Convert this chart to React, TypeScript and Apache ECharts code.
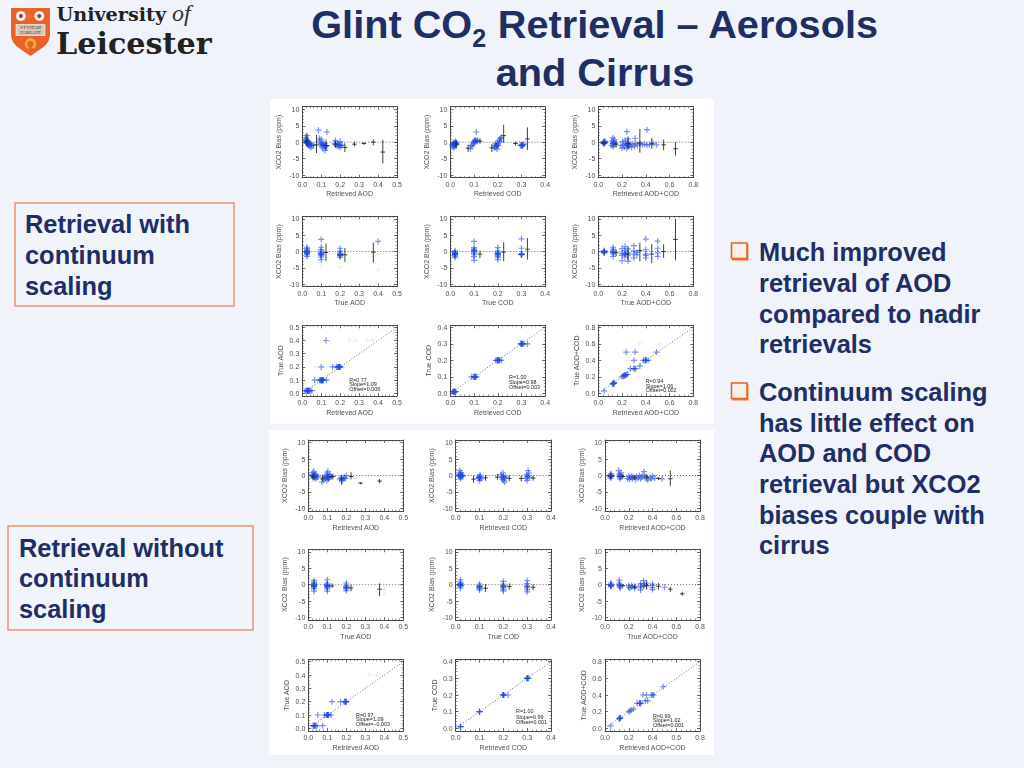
import React, { useEffect, useRef } from "react";
import * as echarts from "echarts";

// ---------- slide text ----------
const titleLine2 = "and Cirrus";
const box1Lines = ["Retrieval with", "continuum", "scaling"];
const box2Lines = ["Retrieval without", "continuum", "scaling"];
const bullet1Lines = ["Much improved", "retrieval of AOD", "compared to nadir", "retrievals"];
const bullet2Lines = ["Continuum scaling", "has little effect on", "AOD and COD", "retrieval but XCO2", "biases couple with", "cirrus"];

// ---------- ticks ----------
const biasTicks = [-10, -5, 0, 5, 10];
const biasMinor = [-10, -9, -8, -7, -6, -5, -4, -3, -2, -1, 0, 1, 2, 3, 4, 5, 6, 7, 8, 9, 10];
const ticks05 = [0, 0.1, 0.2, 0.3, 0.4, 0.5];
const minor05 = [0, 0.02, 0.04, 0.06, 0.08, 0.1, 0.12, 0.14, 0.16, 0.18, 0.2, 0.22, 0.24, 0.26, 0.28, 0.3, 0.32, 0.34, 0.36, 0.38, 0.4, 0.42, 0.44, 0.46, 0.48, 0.5];
const ticks04 = [0, 0.1, 0.2, 0.3, 0.4];
const minor04 = [0, 0.02, 0.04, 0.06, 0.08, 0.1, 0.12, 0.14, 0.16, 0.18, 0.2, 0.22, 0.24, 0.26, 0.28, 0.3, 0.32, 0.34, 0.36, 0.38, 0.4];
const ticks08 = [0, 0.2, 0.4, 0.6, 0.8];
const minor08 = [0, 0.04, 0.08, 0.12, 0.16, 0.2, 0.24, 0.28, 0.32, 0.36, 0.4, 0.44, 0.48, 0.52, 0.56, 0.6, 0.64, 0.68, 0.72, 0.76, 0.8];

// ---------- with continuum scaling: bias vs retrieved ----------
const blueA1 = [[.015,.6],[.018,1.4],[.02,.3],[.02,-.2],[.022,.9],[.024,2],[.025,.1],[.027,-.4],[.028,.6],[.03,-.6],[.032,.2],[.034,-.9],[.036,-.3],[.038,-.8],[.04,-1.1],[.042,-.5],[.045,-1.7],[.048,-.9],[.052,-1],[.06,-.9],[.085,3.7],[.09,1.2],[.092,.4],[.095,-.3],[.1,-.8],[.1,.9],[.104,-1.4],[.106,-.2],[.11,-1],[.11,-2],[.114,-.5],[.118,-1.3],[.12,-2.5],[.122,-1],[.126,-1.1],[.13,3.1],[.13,-1],[.17,-.5],[.175,.5],[.18,-1],[.185,-.3],[.19,-1.2],[.195,-.7],[.2,-1.5],[.2,.2],[.205,-1],[.21,-.9]];
const coreA1 = [[.022,.2],[.025,-.1],[.03,-.3],[.028,0],[.035,-.6],[.105,-.9],[.11,-.8],[.125,-1.1],[.12,-1],[.19,-.9],[.195,-1]];
const blackA1 = [[.025,.3,-1.5,2.6],[.075,-.8,-3.3,2.2],[.125,-1,-2.6,.8],[.175,-.6,-1.7,.5],[.225,-1.6,-3,-.3],[.275,-.6,-1.3,.2],[.325,-.4,-.8,0],[.375,0,-.9,.9],[.425,-3,-6.5,.7]];
const blueA2 = [[.008,-.8],[.01,-1.4],[.012,-.4],[.014,-1],[.015,-.2],[.016,-1.7],[.018,-.7],[.02,-.3],[.021,.3],[.022,-1],[.023,-.5],[.025,-.1],[.026,-.7],[.085,-2],[.088,-1],[.092,-1.2],[.095,-.6],[.1,-.1],[.102,.3],[.105,.7],[.108,.1],[.11,3.1],[.112,.4],[.115,.6],[.185,-1.8],[.188,-1.1],[.19,-.5],[.192,-1.5],[.195,-.8],[.197,-2.1],[.2,-.3],[.202,-1],[.205,.5],[.208,.9],[.21,.2],[.212,1.2],[.215,1.4],[.295,-1],[.3,-.8],[.303,-1.1],[.306,-.9],[.31,-.6]];
const coreA2 = [[.015,-.8],[.018,-.5],[.02,-.7],[.022,-.6],[.1,.2],[.105,.4],[.2,-.9],[.195,-1.1],[.3,-.9],[.302,-1],[.305,-.9]];
const blackA2 = [[.025,-.5,-1.7,.6],[.075,-1.8,-3,-.7],[.125,.3,-.5,1.2],[.175,-1.7,-3,-.6],[.225,2,-.2,5.3],[.275,-.4,-1,.2],[.325,1,-2.4,4.5]];
const blueA3 = [[.04,-.3],[.045,.2],[.048,-.5],[.05,0],[.052,-.2],[.055,.3],[.058,-.1],[.11,-1],[.115,.4],[.12,-.5],[.122,1.3],[.125,-1.4],[.128,.1],[.13,-.8],[.135,.8],[.14,-.3],[.19,-1],[.2,-1.8],[.205,.2],[.21,-.8],[.22,-1.5],[.225,.6],[.23,-.4],[.24,3.2],[.24,-1.9],[.245,-.9],[.25,1],[.255,-.3],[.26,-1.2],[.27,-.7],[.28,-1.5],[.29,-.6],[.305,-1.2],[.31,1.2],[.315,-.4],[.33,-.9],[.35,-.5],[.37,-.8],[.39,-.6],[.41,3.8],[.41,-.9],[.43,-.7],[.46,-.3],[.49,-.8]];
const coreA3 = [[.05,-.2],[.05,-.1],[.048,-.3],[.052,0],[.125,-.4],[.13,-.3],[.25,-.5],[.255,-.7],[.24,-.6]];
const blackA3 = [[.05,-.2,-.7,.3],[.15,-.6,-1.6,.5],[.25,-.4,-2.2,1.4],[.35,-.2,-3.2,4],[.45,-.5,-2,1.3],[.55,-.8,-2.5,.8],[.65,-2,-4,0]];

// ---------- with continuum scaling: bias vs true ----------
const blueA4 = [[.025,1.3],[.025,.9],[.025,.5],[.025,.2],[.025,-.1],[.025,-.4],[.025,-.7],[.025,-1],[.025,-1.5],[.1,3.7],[.1,1.3],[.1,.6],[.1,.1],[.1,-.3],[.1,-.7],[.1,-1],[.1,-1.3],[.1,-1.7],[.1,-2.5],[.2,1],[.2,.1],[.2,-.5],[.2,-.8],[.2,-1.1],[.2,-1.3],[.2,-1.7],[.4,3.1]];
const coreA4 = [[.025,.1],[.025,-.2],[.025,-.5],[.025,-.3],[.1,-.8],[.1,-1],[.1,-.6],[.2,-1],[.2,-.9],[.2,-1.2]];
const blackA4 = [[.125,-.3,-3,2.5],[.225,-1,-3.2,1.1],[.375,-.2,-3.4,2.7]];
const faintA4 = [[.025,3.5],[.1,-4.5],[.2,-4.8],[.4,-1],[.4,-5.5]];
const blueA5 = [[.02,.2],[.02,-.2],[.02,-.5],[.02,-.7],[.02,-.9],[.02,-1.1],[.02,-1.4],[.02,-1.8],[.1,3.1],[.1,1.2],[.1,.7],[.1,.3],[.1,-.1],[.1,-.5],[.1,-1],[.1,-1.6],[.1,-2.7],[.2,1.2],[.2,.2],[.2,-.3],[.2,-.7],[.2,-1],[.2,-1.4],[.2,-1.8],[.2,-2.5],[.3,3.9],[.3,1],[.3,-.8],[.3,-1],[.3,-.9]];
const coreA5 = [[.02,-.7],[.02,-.5],[.02,-.9],[.02,-.8],[.1,.1],[.1,.4],[.2,-.8],[.2,-1],[.2,-.5],[.3,-.9],[.3,-.8],[.3,-1]];
const blackA5 = [[.125,-.8,-2,.3],[.225,-.2,-3,2.8],[.325,.7,-2.5,4.1]];
const blueA6 = [[.05,.3],[.05,0],[.05,-.2],[.05,-.5],[.125,1.3],[.125,.7],[.125,.2],[.125,-.2],[.125,-.7],[.125,-1.5],[.2,.9],[.2,-.6],[.2,-1.2],[.2,-2.8],[.225,1.5],[.225,.3],[.225,-.7],[.225,-1.7],[.25,.8],[.25,-.4],[.25,-1.3],[.25,-3],[.3,1.8],[.3,.2],[.3,-.9],[.3,-2],[.325,-.3],[.325,-1],[.4,3.8],[.4,.6],[.4,-.8],[.4,-1.2],[.4,-2],[.5,3.2],[.5,1],[.5,-.4],[.5,-1.5]];
const coreA6 = [[.05,-.2],[.05,-.3],[.05,-.1],[.05,0],[.125,-.2],[.125,-.3],[.225,-.6],[.225,-.8]];
const blackA6 = [[.15,-.4,-1.4,.6],[.25,-.8,-2.8,1.2],[.35,.3,-3,2.7],[.45,-.8,-3.5,2.3],[.55,0,-2,2.2],[.65,3.7,-2.7,10]];

// ---------- with continuum scaling: true vs retrieved ----------
const blueA7 = [[.015,.02],[.02,.02],[.025,.02],[.028,.02],[.03,.02],[.033,.02],[.037,.02],[.042,.02],[.05,.02],[.065,.1],[.09,.1],[.095,.1],[.1,.1],[.103,.1],[.107,.1],[.112,.1],[.128,.1],[.1,.2],[.16,.2],[.18,.2],[.187,.2],[.192,.2],[.196,.2],[.2,.2],[.125,.4]];
const coreA7 = [[.025,.02],[.03,.02],[.035,.02],[.1,.1],[.1,.1],[.105,.1],[.11,.1],[.19,.2],[.195,.2],[.2,.2],[.195,.2]];
const faintA7 = [[.25,.4],[.28,.4],[.34,.4],[.37,.4],[.22,.2],[.07,.2]];
const blueA8 = [[.01,.01],[.013,.01],[.016,.01],[.02,.01],[.024,.01],[.09,.1],[.098,.1],[.102,.1],[.106,.1],[.11,.1],[.192,.2],[.197,.2],[.2,.2],[.204,.2],[.208,.2],[.215,.2],[.296,.3],[.3,.3],[.304,.3],[.31,.3],[.325,.3]];
const coreA8 = [[.015,.01],[.018,.01],[.02,.01],[.105,.1],[.1,.1],[.2,.2],[.2,.2],[.205,.2],[.3,.3],[.3,.3],[.305,.3]];
const blueA9 = [[.05,.03],[.12,.11],[.125,.115],[.13,.12],[.135,.13],[.2,.2],[.21,.21],[.215,.21],[.225,.22],[.235,.225],[.245,.23],[.27,.3],[.3,.3],[.315,.3],[.35,.33],[.38,.4],[.395,.4],[.405,.4],[.42,.4],[.3,.4],[.235,.5],[.31,.5],[.49,.5]];
const coreA9 = [[.125,.12],[.13,.12],[.22,.22],[.23,.22],[.4,.4],[.395,.4],[.3,.3]];
const faintA9 = [[.52,.6],[.35,.6],[.25,.4]];

// ---------- without continuum scaling: bias vs retrieved ----------
const blueB1 = [[.02,.3],[.022,-.4],[.024,.9],[.026,-.8],[.028,.1],[.03,1.3],[.03,-.3],[.033,.4],[.035,-.6],[.037,-.1],[.04,-1],[.042,.2],[.045,-.5],[.05,-.2],[.072,-2],[.08,-1.2],[.085,-.5],[.09,-.9],[.095,.2],[.097,-1.5],[.1,.7],[.1,-.5],[.103,1.3],[.105,-1.1],[.108,-.2],[.11,-.7],[.115,.3],[.12,-.4],[.13,-.3],[.165,-1.3],[.17,-.8],[.18,-1.5],[.185,-1],[.19,-.5],[.195,-.9],[.2,0]];
const coreB1 = [[.03,-.2],[.03,-.4],[.035,-.3],[.1,-.4],[.105,-.5],[.1,-.3],[.11,-.4]];
const blackB1 = [[.025,-.3,-1,.5],[.075,-.8,-1.8,.2],[.125,-.3,-.9,.3],[.175,-1,-2.8,.2],[.225,-.3,-1.2,1],[.275,-2.3,-2.7,-2],[.375,-1.7,-2.4,-1]];
const blueB2 = [[.012,.3],[.015,-.4],[.017,1.5],[.018,.6],[.02,-1],[.02,.1],[.022,-.5],[.023,.9],[.025,.2],[.027,-.2],[.03,-.1],[.095,-.9],[.098,-.4],[.1,-1.5],[.1,-.7],[.102,.2],[.104,-.3],[.106,-1],[.19,.3],[.193,-.5],[.196,-1.2],[.198,.8],[.2,-.2],[.202,-1.5],[.204,-.7],[.206,-2],[.21,-.4],[.295,-.9],[.298,.3],[.3,-1.5],[.302,-.2],[.304,1.5],[.306,.7],[.31,-.6]];
const coreB2 = [[.02,-.1],[.02,.1],[.02,-.2],[.022,0],[.1,-.7],[.1,-.5],[.2,-.4],[.2,-.8],[.3,-.4]];
const blackB2 = [[.075,-1.1,-2.2,0],[.125,-.7,-1.6,.2],[.175,-.5,-1.3,.5],[.225,-.9,-1.7,.1],[.275,-.9,-1.8,0],[.325,-.8,-1.6,0]];
const blueB3 = [[.04,-.4],[.045,.3],[.048,-.8],[.05,0],[.052,.5],[.055,-.2],[.115,1.5],[.118,-.3],[.12,.5],[.125,-1],[.128,.1],[.13,-.5],[.135,.8],[.14,-.3],[.19,-.9],[.2,-.3],[.205,-1.2],[.215,-.6],[.225,-.2],[.23,-1],[.24,-.5],[.26,-1.3],[.265,-.3],[.28,-.7],[.29,-.1],[.3,-1],[.31,-.5],[.32,.2],[.33,1.2],[.335,-.4],[.35,-.9],[.36,-1.4],[.38,-.6],[.39,-1.1],[.4,-.2],[.42,-.8],[.48,-1]];
const coreB3 = [[.05,-.2],[.05,-.3],[.05,-.1],[.125,-.2],[.125,-.3]];
const blackB3 = [[.05,-.3,-.8,.2],[.15,-.3,-.9,.4],[.25,-.7,-1.3,.1],[.35,-.4,-1.2,.4],[.45,-.9,-1.4,-.5],[.55,-1,-3.3,1.5]];

// ---------- without continuum scaling: bias vs true ----------
const blueB4 = [[.03,1.3],[.03,.8],[.03,.4],[.03,.1],[.03,-.2],[.03,-.5],[.03,-.8],[.03,-1.2],[.03,-2],[.1,1.5],[.1,.5],[.1,.1],[.1,-.2],[.1,-.5],[.1,-.9],[.1,-1.3],[.1,-2],[.2,.5],[.2,-.2],[.2,-.6],[.2,-1],[.2,-1.3],[.2,-1.8]];
const coreB4 = [[.03,-.2],[.03,-.4],[.03,-.1],[.03,-.5],[.1,-.4],[.1,-.2],[.1,-.6],[.2,-.8],[.2,-1]];
const blackB4 = [[.125,-.4,-1,.4],[.225,-1,-2,0],[.375,-1.4,-3.5,.4]];
const faintB4 = [[.4,-1.5],[.4,-3],[.03,-3.5]];
const blueB5 = [[.02,1.5],[.02,.8],[.02,.4],[.02,.1],[.02,-.2],[.02,-.5],[.02,-1],[.1,.2],[.1,-.3],[.1,-.6],[.1,-.9],[.1,-1.2],[.1,-1.6],[.2,1],[.2,.2],[.2,-.3],[.2,-.7],[.2,-1],[.2,-1.5],[.2,-2],[.3,1.2],[.3,.3],[.3,-.4],[.3,-.9],[.3,-1.5],[.3,-2.2]];
const coreB5 = [[.02,0],[.02,-.2],[.02,.2],[.02,-.1],[.1,-.7],[.1,-.5],[.2,-.7],[.2,-.4],[.3,-.5]];
const blackB5 = [[.125,-1.1,-2.2,.2],[.225,-.6,-1.5,.4],[.325,-.8,-1.7,.1]];
const blueB6 = [[.05,.5],[.05,.1],[.05,-.2],[.05,-.6],[.12,1.4],[.12,.5],[.12,.1],[.125,-.3],[.125,-.7],[.13,-1],[.2,-.3],[.2,-.8],[.21,-1.1],[.225,-.2],[.225,-.7],[.25,-.5],[.25,-1.1],[.3,.3],[.3,-.4],[.3,-.9],[.3,-1.6],[.325,1.2],[.325,.3],[.325,-.5],[.33,-.2],[.35,.5],[.35,-.4],[.4,.2],[.4,-.3],[.4,-.9],[.4,-1.5],[.5,-.8]];
const coreB6 = [[.05,-.2],[.05,-.3],[.05,-.1],[.125,-.2],[.125,-.3]];
const blackB6 = [[.15,-.3,-.8,.2],[.25,-.8,-1.4,-.2],[.35,-.2,-1.5,1],[.45,-.5,-1.5,.5],[.55,-1.4,-2.2,-.7],[.65,-2.8,-3.4,-2.2]];

// ---------- without continuum scaling: true vs retrieved ----------
const blueB7 = [[.025,.02],[.03,.02],[.033,.02],[.037,.02],[.045,.02],[.075,.02],[.05,.1],[.085,.1],[.095,.1],[.1,.1],[.103,.1],[.108,.1],[.12,.1],[.125,.2],[.17,.2],[.19,.2],[.195,.2],[.2,.2]];
const coreB7 = [[.03,.02],[.035,.02],[.1,.1],[.1,.1],[.105,.1],[.195,.2],[.2,.2]];
const faintB7 = [[.32,.4],[.36,.4],[.3,.3]];
const blueB8 = [[.02,.01],[.1,.1],[.198,.2],[.2,.2],[.203,.2],[.22,.2],[.302,.3],[.306,.3]];
const coreB8 = [[.02,.01],[.02,.01],[.1,.1],[.1,.1],[.2,.2],[.2,.2],[.3,.3],[.3,.3],[.3,.3]];
const blueB9 = [[.05,.03],[.12,.115],[.125,.12],[.13,.13],[.2,.2],[.21,.21],[.22,.22],[.24,.23],[.27,.3],[.29,.3],[.3,.3],[.32,.4],[.35,.4],[.34,.33],[.36,.33],[.39,.4],[.41,.4],[.49,.5]];
const coreB9 = [[.125,.12],[.12,.115],[.4,.4],[.29,.3],[.3,.3]];

const statsA1 = ["R=0.77", "Slope=1.09", "Offset=0.006"];
const statsA2 = ["R=1.00", "Slope=0.98", "Offset=0.003"];
const statsA3 = ["R=0.94", "Slope=1.06", "Offset=0.002"];
const statsB1 = ["R=0.97", "Slope=1.09", "Offset=\u22120.003"];
const statsB2 = ["R=1.00", "Slope=0.99", "Offset=0.001"];
const statsB3 = ["R=0.99", "Slope=1.02", "Offset=0.001"];

// ---------- layout ----------
const colsA = [[302.3, 397], [450.3, 545.2], [598.3, 693.3]];
const colsB = [[308.3, 403.3], [455.7, 551], [605, 700]];
const NAVY = "#202e66";
const ORANGE = "#e8652a";
const SANS = "'Liberation Sans', Arial, sans-serif";
const BIAS = "XCO2 Bias (ppm)";

type Panel = {
  box: number[]; xName: string; yName: string; xMax: number; kind: "bias" | "fit";
  blue: number[][]; black?: number[][]; faint?: number[][]; stats?: string[]; statsAt?: number[];
};
const ranges: Record<string, { t: number[]; m: number[]; step: number }> = {
  "0.5": { t: ticks05, m: minor05, step: 0.1 },
  "0.4": { t: ticks04, m: minor04, step: 0.1 },
  "0.8": { t: ticks08, m: minor08, step: 0.2 },
};
const rowsY = { a1: [106.7, 177.7], a2: [216.3, 286.7], a3: [325.3, 396], b1: [440, 511], b2: [549.3, 620], b3: [659.7, 731] };
const bx = (c: number[], r: number[]) => [c[0], r[0], c[1] - c[0], r[1] - r[0]];

const panels: Panel[] = [
  { box: bx(colsA[0], rowsY.a1), xName: "Retrieved AOD", yName: BIAS, xMax: .5, kind: "bias", blue: [...blueA1, ...coreA1], black: blackA1 },
  { box: bx(colsA[1], rowsY.a1), xName: "Retrieved COD", yName: BIAS, xMax: .4, kind: "bias", blue: [...blueA2, ...coreA2], black: blackA2 },
  { box: bx(colsA[2], rowsY.a1), xName: "Retrieved AOD+COD", yName: BIAS, xMax: .8, kind: "bias", blue: [...blueA3, ...coreA3], black: blackA3 },
  { box: bx(colsA[0], rowsY.a2), xName: "True AOD", yName: BIAS, xMax: .5, kind: "bias", blue: [...blueA4, ...coreA4], black: blackA4, faint: faintA4 },
  { box: bx(colsA[1], rowsY.a2), xName: "True COD", yName: BIAS, xMax: .4, kind: "bias", blue: [...blueA5, ...coreA5], black: blackA5 },
  { box: bx(colsA[2], rowsY.a2), xName: "True AOD+COD", yName: BIAS, xMax: .8, kind: "bias", blue: [...blueA6, ...coreA6], black: blackA6 },
  { box: bx(colsA[0], rowsY.a3), xName: "Retrieved AOD", yName: "True AOD", xMax: .5, kind: "fit", blue: [...blueA7, ...coreA7], faint: faintA7, stats: statsA1, statsAt: [349.3, 380, 4.4] },
  { box: bx(colsA[1], rowsY.a3), xName: "Retrieved COD", yName: "True COD", xMax: .4, kind: "fit", blue: [...blueA8, ...coreA8], stats: statsA2, statsAt: [509, 376.7, 5.3] },
  { box: bx(colsA[2], rowsY.a3), xName: "Retrieved AOD+COD", yName: "True AOD+COD", xMax: .8, kind: "fit", blue: [...blueA9, ...coreA9], faint: faintA9, stats: statsA3, statsAt: [645.7, 380.7, 4.8] },
  { box: bx(colsB[0], rowsY.b1), xName: "Retrieved AOD", yName: BIAS, xMax: .5, kind: "bias", blue: [...blueB1, ...coreB1], black: blackB1 },
  { box: bx(colsB[1], rowsY.b1), xName: "Retrieved COD", yName: BIAS, xMax: .4, kind: "bias", blue: [...blueB2, ...coreB2], black: blackB2 },
  { box: bx(colsB[2], rowsY.b1), xName: "Retrieved AOD+COD", yName: BIAS, xMax: .8, kind: "bias", blue: [...blueB3, ...coreB3], black: blackB3 },
  { box: bx(colsB[0], rowsY.b2), xName: "True AOD", yName: BIAS, xMax: .5, kind: "bias", blue: [...blueB4, ...coreB4], black: blackB4, faint: faintB4 },
  { box: bx(colsB[1], rowsY.b2), xName: "True COD", yName: BIAS, xMax: .4, kind: "bias", blue: [...blueB5, ...coreB5], black: blackB5 },
  { box: bx(colsB[2], rowsY.b2), xName: "True AOD+COD", yName: BIAS, xMax: .8, kind: "bias", blue: [...blueB6, ...coreB6], black: blackB6 },
  { box: bx(colsB[0], rowsY.b3), xName: "Retrieved AOD", yName: "True AOD", xMax: .5, kind: "fit", blue: [...blueB7, ...coreB7], faint: faintB7, stats: statsB1, statsAt: [356, 714.7, 4.4] },
  { box: bx(colsB[1], rowsY.b3), xName: "Retrieved COD", yName: "True COD", xMax: .4, kind: "fit", blue: [...blueB8, ...coreB8], stats: statsB2, statsAt: [516, 711.3, 5.3] },
  { box: bx(colsB[2], rowsY.b3), xName: "Retrieved AOD+COD", yName: "True AOD+COD", xMax: .8, kind: "fit", blue: [...blueB9, ...coreB9], stats: statsB3, statsAt: [653, 715.7, 4.7] },
];

const PLUS = "path://M4 0h2v4h4v2H6v4H4V6H0V4h4z";
const AXC = "#4a4a4a";

function renderError(xSpan: number) {
  return (_p: any, api: any) => {
    const x = api.value(0);
    const mid = api.coord([x, api.value(1)]);
    const lo = api.coord([x, api.value(2)]);
    const hi = api.coord([x, api.value(3)]);
    const l = api.coord([x - xSpan, api.value(1)]);
    const r = api.coord([x + xSpan, api.value(1)]);
    const style = { stroke: "#2a2a2a", lineWidth: 0.9, fill: "none" };
    return {
      type: "group",
      children: [
        { type: "line", shape: { x1: mid[0], y1: lo[1], x2: mid[0], y2: hi[1] }, style },
        { type: "line", shape: { x1: l[0], y1: mid[1], x2: r[0], y2: mid[1] }, style },
      ],
    };
  };
}

function plotOption() {
  const grid: any[] = [], xAxis: any[] = [], yAxis: any[] = [], series: any[] = [], graphic: any[] = [];
  const lbl = { fontFamily: SANS, fontSize: 7, color: "#505050" };
  panels.forEach((p, g) => {
    const [left, top, width, height] = p.box;
    grid.push({ left, top, width, height });
    const R = ranges[String(p.xMax)];
    const bias = p.kind === "bias";
    const yMin = bias ? -10.8 : -p.xMax * 0.04;
    const yMax = bias ? 10.8 : p.xMax * 1.03;
    const yT = bias ? biasTicks : R.t;
    const yM = bias ? biasMinor : R.m;
    const base = { gridIndex: g, type: "value", splitLine: { show: false }, silent: true };
    const line = { onZero: false, show: true, lineStyle: { color: AXC, width: 1 } };
    const tick = { show: true, inside: true, length: 3, lineStyle: { color: AXC, width: 0.8 } };
    const small = { show: true, length: 1.5, lineStyle: { color: AXC, width: 0.6 } };
    const xIdx = xAxis.length;
    xAxis.push({
      ...base, position: "bottom", min: 0, max: p.xMax, interval: R.step,
      axisLine: line, axisTick: tick, minorTick: { ...small, splitNumber: 5 },
      axisLabel: { ...lbl, margin: 3, formatter: (v: number) => v.toFixed(1) },
      name: p.xName, nameLocation: "middle", nameGap: 12.5, nameTextStyle: { ...lbl },
    });
    xAxis.push({
      ...base, position: "top", min: 0, max: p.xMax, interval: R.step,
      axisLine: line, axisTick: tick, minorTick: { ...small, splitNumber: 5 }, axisLabel: { show: false },
    });
    const yIdx = yAxis.length;
    yAxis.push({
      ...base, position: "left", min: yMin, max: yMax,
      axisLine: line, axisTick: { ...tick, customValues: yT },
      axisLabel: { ...lbl, margin: 3, customValues: yT, formatter: (v: number) => (bias ? String(v) : v.toFixed(1)) },
      name: p.yName, nameLocation: "middle", nameRotate: 90, nameGap: bias ? 20.5 : 18, nameTextStyle: { ...lbl },
    });
    yAxis.push({
      ...base, position: "right", min: yMin, max: yMax,
      axisLine: line, axisTick: { ...tick, customValues: yT }, axisLabel: { show: false },
    });
    yAxis.push({
      ...base, position: "left", min: yMin, max: yMax,
      axisLine: { show: false, onZero: false }, axisTick: { ...small, inside: true, customValues: yM }, axisLabel: { show: false },
    });
    yAxis.push({
      ...base, position: "right", min: yMin, max: yMax,
      axisLine: { show: false, onZero: false }, axisTick: { ...small, inside: true, customValues: yM }, axisLabel: { show: false },
    });
    const on = { xAxisIndex: xIdx, yAxisIndex: yIdx };
    series.push({
      ...on, type: "line", showSymbol: false, silent: true, z: 1,
      data: bias ? [[0, 0], [p.xMax, 0]] : [[0, 0], [p.xMax, p.xMax]],
      lineStyle: { color: "#555", width: 0.9, type: [1, 2] },
    });
    if (p.faint) {
      series.push({ ...on, type: "scatter", silent: true, symbol: PLUS, symbolSize: 5, data: p.faint, itemStyle: { color: "#b9bfd0", opacity: 0.3 }, z: 2 });
    }
    series.push({ ...on, type: "scatter", silent: true, symbol: PLUS, symbolSize: 6, data: p.blue, itemStyle: { color: "#1f47e6", opacity: 0.6 }, z: 3 });
    if (p.black) {
      series.push({ ...on, type: "custom", silent: true, renderItem: renderError(p.xMax * 0.024), data: p.black, z: 4 });
    }
    if (p.stats && p.statsAt) {
      const [sx, sy, dy] = p.statsAt;
      p.stats.forEach((s, i) => {
        graphic.push({
          type: "text", x: sx, y: sy + i * dy, silent: true, z: 20,
          style: { text: s, fontFamily: SANS, fontSize: 5.4, fill: "#222", textAlign: "left", textVerticalAlign: "middle" },
        });
      });
    }
  });
  return { animation: false, backgroundColor: "transparent", grid, xAxis, yAxis, series, graphic };
}

function lines(arr: string[], x: number, ys: number[], size: number) {
  return arr.map((s, i) => ({
    type: "text", x, y: ys[i], silent: true,
    style: { text: s, fontFamily: SANS, fontWeight: "bold", fontSize: size, fill: NAVY, textAlign: "left", textVerticalAlign: "middle" },
  }));
}

function bullet(y: number) {
  return [
    { type: "rect", shape: { x: 732, y: y + 1, width: 16.5, height: 16.5 }, style: { fill: "#ef7a3c" }, silent: true },
    { type: "rect", shape: { x: 731.5, y: y, width: 15.5, height: 15.5 }, style: { fill: "#f7efe9", stroke: ORANGE, lineWidth: 1.6 }, silent: true },
  ];
}

const SHIELD = "M0 0H39V27C39 37 28 42 19.5 48C11 42 0 37 0 27Z";
echarts.graphic.registerShape("shield", echarts.graphic.extendPath(SHIELD, {}) as any);

function rose(x: number, y: number) {
  return [
    { type: "circle", shape: { cx: x, cy: y, r: 5 }, style: { fill: "#f6efe8" }, silent: true },
    { type: "circle", shape: { cx: x, cy: y, r: 2 }, style: { fill: "#7a4a3a" }, silent: true },
  ];
}

function slideOption() {
  const g: any[] = [
    { type: "rect", shape: { x: 270, y: 99, width: 444, height: 325 }, style: { fill: "#fff" }, silent: true },
    { type: "rect", shape: { x: 269, y: 430, width: 445, height: 325 }, style: { fill: "#fff" }, silent: true },
    { type: "shield", x: 11, y: 8, style: { fill: "#e8622c" }, silent: true },
    ...rose(21, 16), ...rose(39.3, 16),
    { type: "rect", shape: { x: 16, y: 24.5, width: 29, height: 11 }, style: { fill: "#d9c9b4", stroke: "#fff", lineWidth: 0.6 }, silent: true },
    { type: "text", x: 30.5, y: 27.5, silent: true, style: { text: "VT VITAM", fontFamily: "'Liberation Serif'", fontSize: 4.4, fill: "#333", textAlign: "center", textVerticalAlign: "middle" } },
    { type: "text", x: 30.5, y: 32.5, silent: true, style: { text: "HABEANT", fontFamily: "'Liberation Serif'", fontSize: 4.4, fill: "#333", textAlign: "center", textVerticalAlign: "middle" } },
    { type: "arc", shape: { cx: 30.5, cy: 44, r: 4.5, startAngle: -Math.PI * 1.35, endAngle: Math.PI * 0.35 }, style: { stroke: "#f3b23a", lineWidth: 2.4, fill: "none" }, silent: true },
    { type: "text", x: 56.5, y: 14.5, silent: true, style: { text: "University", fontFamily: "'DejaVu Serif'", fontWeight: "bold", fontSize: 19.2, fill: "#222", textAlign: "left", textVerticalAlign: "middle" } },
    { type: "text", x: 172, y: 13, silent: true, style: { text: "of", fontFamily: "'Liberation Serif'", fontStyle: "italic", fontSize: 24, fill: "#333", textAlign: "left", textVerticalAlign: "middle" } },
    { type: "text", x: 56, y: 43, silent: true, style: { text: "Leicester", fontFamily: "'DejaVu Serif'", fontWeight: "bold", fontSize: 30.2, fill: "#222", textAlign: "left", textVerticalAlign: "middle" } },
    {
      type: "text", x: 595, y: 24, silent: true,
      style: {
        text: "{a|Glint CO}{s|2}{a| Retrieval \u2013 Aerosols}", textAlign: "center", textVerticalAlign: "middle",
        fontFamily: SANS, fontWeight: "bold", fontSize: 39.7, fill: NAVY,
        rich: {
          a: { fontFamily: SANS, fontWeight: "bold", fontSize: 39.7, fill: NAVY, lineHeight: 53 },
          s: { fontFamily: SANS, fontWeight: "bold", fontSize: 25, fill: NAVY, lineHeight: 25, verticalAlign: "bottom" },
        },
      },
    },
    { type: "text", x: 595, y: 72, silent: true, style: { text: titleLine2, fontFamily: SANS, fontWeight: "bold", fontSize: 39.7, fill: NAVY, textAlign: "center", textVerticalAlign: "middle" } },
    { type: "rect", shape: { x: 15, y: 203, width: 219, height: 103 }, style: { fill: "#f2f4fb", stroke: "#ea9274", lineWidth: 1.5 }, silent: true },
    { type: "rect", shape: { x: 8, y: 526, width: 245, height: 104 }, style: { fill: "#f2f4fb", stroke: "#ea9274", lineWidth: 1.5 }, silent: true },
    ...lines(box1Lines, 25, [224, 255, 286], 25.4),
    ...lines(box2Lines, 19, [548, 578, 609], 25.4),
    ...bullet(243), ...bullet(383),
    ...lines(bullet1Lines, 759, [252, 283, 314, 344], 25.4),
    ...lines(bullet2Lines, 759, [392, 423, 453, 484, 515, 545], 25.4),
  ];
  return { animation: false, backgroundColor: "#f1f3fa", graphic: g };
}

export default function App() {
  const a = useRef<HTMLDivElement>(null);
  const b = useRef<HTMLDivElement>(null);
  useEffect(() => {
    const c1 = echarts.init(a.current!, undefined, { renderer: "svg", width: 1024, height: 768 });
    const c2 = echarts.init(b.current!, undefined, { renderer: "svg", width: 1024, height: 768 });
    c1.setOption(slideOption() as any);
    c2.setOption(plotOption() as any);
    return () => { c1.dispose(); c2.dispose(); };
  }, []);
  const st: React.CSSProperties = { position: "absolute", left: 0, top: 0, width: 1024, height: 768 };
  return (
    <div style={{ position: "fixed", left: 0, top: 0, width: 1024, height: 768, overflow: "hidden" }}>
      <div ref={a} style={st} />
      <div ref={b} style={{ ...st, filter: "blur(0.6px)" }} />
    </div>
  );
}
